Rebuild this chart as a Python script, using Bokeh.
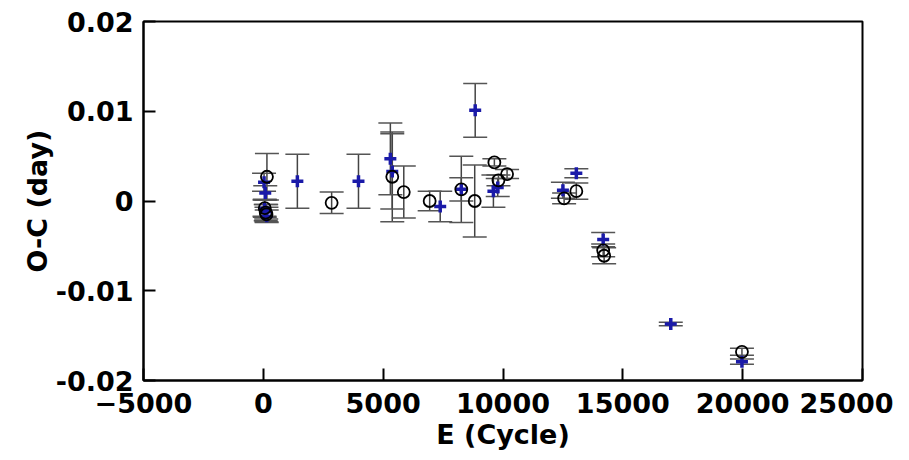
from bokeh.plotting import figure
from bokeh.models import ColumnDataSource, Whisker, TeeHead, FixedTicker, Range1d
from bokeh.embed import file_html
from bokeh.resources import INLINE

# open circles
e_circ = [150, 60, 100, 130, 2850, 5380, 5860, 6940, 8260, 8820, 9640, 9810, 10170,
          12550, 13060, 14180, 14220, 19970]
oc_circ = [0.0027, -0.0008, -0.0013, -0.0015, -0.0002, 0.0027, 0.0010, 0.0000, 0.0013,
           0.0000, 0.0043, 0.0023, 0.0030, 0.0003, 0.0011, -0.0055, -0.0061, -0.0168]
err_circ = [0.0026, 0.0010, 0.0009, 0.0008, 0.0012, 0.0050, 0.0029, 0.0011, 0.0037,
            0.0040, 0.0004, 0.0006, 0.0005, 0.0006, 0.0009, 0.0007, 0.0009, 0.0004]

# blue pluses
e_plus = [30, 80, 50, 120, 140, 1420, 3970, 5300, 5380, 7380, 8260, 8840, 9600, 9780,
          12500, 13060, 14180, 17000, 19970]
oc_plus = [0.0021, 0.0009, -0.0008, -0.0012, -0.0017, 0.0022, 0.0022, 0.0047, 0.0033,
           -0.0006, 0.0013, 0.0101, 0.0011, 0.0015, 0.0012, 0.0031, -0.0043, -0.0137, -0.0179]
err_plus = [0.0010, 0.0008, 0.0009, 0.0008, 0.0007, 0.0030, 0.0030, 0.0040, 0.0042,
            0.0017, 0.0013, 0.0030, 0.0018, 0.0010, 0.0009, 0.0005, 0.0008, 0.0002, 0.0003]

x_ticks = [-5000, 0, 5000, 10000, 15000, 20000, 25000]
y_ticks = [-0.02, -0.01, 0, 0.01, 0.02]
y_tick_labels = ["-0.02", "-0.01", "0", "0.01", "0.02"]

FONT = "DejaVu Sans"

p = figure(width=893, height=452, output_backend="svg", toolbar_location=None,
           x_range=Range1d(-5000, 25000), y_range=Range1d(-0.02, 0.02),
           min_border_left=143, min_border_right=31, min_border_top=21, min_border_bottom=70)
p.xgrid.visible = False
p.ygrid.visible = False
p.outline_line_color = "black"
p.outline_line_width = 2
p.background_fill_color = "white"
p.border_fill_color = "white"

src_c = ColumnDataSource(dict(x=e_circ, y=oc_circ,
                              lo=[a - b for a, b in zip(oc_circ, err_circ)],
                              hi=[a + b for a, b in zip(oc_circ, err_circ)]))
src_p = ColumnDataSource(dict(x=e_plus, y=oc_plus,
                              lo=[a - b for a, b in zip(oc_plus, err_plus)],
                              hi=[a + b for a, b in zip(oc_plus, err_plus)]))

for src in (src_c, src_p):
    w = Whisker(source=src, base="x", upper="hi", lower="lo", dimension="height",
                line_color="#444444", line_width=1.5,
                upper_head=TeeHead(size=24, line_color="#555555", line_width=1.5),
                lower_head=TeeHead(size=24, line_color="#555555", line_width=1.5))
    p.add_layout(w)

p.scatter("x", "y", source=src_p, marker="cross", size=12, line_width=3.5,
          line_color="#1a1aa8")
p.scatter("x", "y", source=src_c, marker="circle", size=12, line_width=1.8,
          line_color="black", fill_color=None)

for ax in (p.xaxis[0], p.yaxis[0]):
    ax.axis_line_width = 2
    ax.axis_line_color = "black"
    ax.major_tick_in = 12
    ax.major_tick_out = 0
    ax.major_tick_line_width = 2
    ax.major_tick_line_color = "black"
    ax.minor_tick_line_color = None
    ax.major_label_text_font = FONT
    ax.major_label_text_font_style = "bold"
    ax.major_label_text_font_size = "27px"
    ax.major_label_text_color = "black"
    ax.axis_label_text_font = FONT
    ax.axis_label_text_font_style = "bold"
    ax.axis_label_text_color = "black"
    ax.axis_label_text_font_size = "27px"

p.xaxis.ticker = FixedTicker(ticks=x_ticks)
p.yaxis.ticker = FixedTicker(ticks=y_ticks)
p.yaxis.major_label_overrides = dict(zip(y_ticks, y_tick_labels))
p.xaxis.major_label_standoff = 12
p.yaxis.major_label_standoff = 10
p.xaxis.axis_label = "E (Cycle)"
p.yaxis.axis_label = "O-C (day)"
p.xaxis.axis_label_standoff = 3
p.yaxis.axis_label_standoff = 0

open("out.html", "w").write(file_html(p, INLINE))
